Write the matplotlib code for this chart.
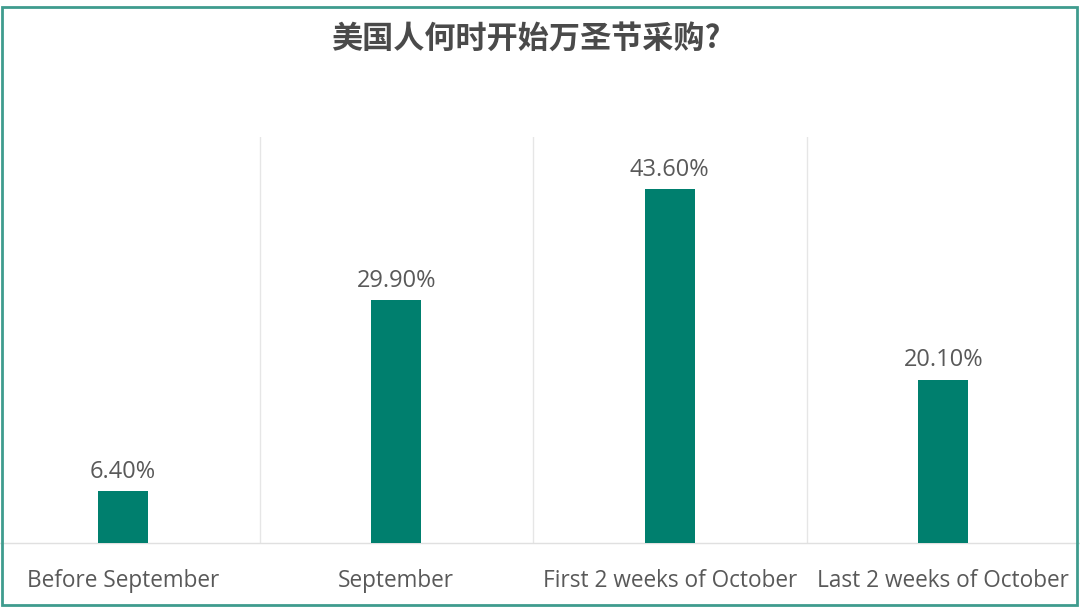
import matplotlib.pyplot as plt
from matplotlib.patches import Rectangle

categories = ["Before September", "September", "First 2 weeks of October", "Last 2 weeks of October"]
shares = [6.4, 29.9, 43.6, 20.1]
value_labels = ["6.40%", "29.90%", "43.60%", "20.10%"]
title = "美国人何时开始万圣节采购?"

W, H = 1080, 608
fig = plt.figure(figsize=(W / 100, H / 100), dpi=100)

# axes placed in pixel terms: x -14..1080, y 137..543 (from top)
ax = fig.add_axes([-14 / W, (H - 543) / H, 1094 / W, (543 - 137) / H])
x = range(len(categories))
ax.bar(x, shares, width=0.183, color="#007F6E", zorder=3)
for xi, v, lab in zip(x, shares, value_labels):
    ax.text(xi, v + 0.9, lab, ha="center", va="bottom", fontsize=17,
            color="#595959", family=["Open Sans", "DejaVu Sans"])

ax.set_xlim(-0.5, len(categories) - 0.5)
ax.set_ylim(0, 50)
ax.set_yticks([])
ax.set_xticks(list(x))
ax.set_xticklabels(categories, fontsize=16.3, color="#595959", family=["Open Sans", "DejaVu Sans"])
ax.tick_params(axis="x", length=0, pad=19)
for b in [0.5, 1.5, 2.5]:
    ax.axvline(b, color="#e6e6e6", lw=1, zorder=1)
for s in ["top", "left", "right"]:
    ax.spines[s].set_visible(False)
ax.spines["bottom"].set_color("#e0e0e0")
ax.spines["bottom"].set_linewidth(1)

fig.text(526 / W, 1 - 39 / H, title, ha="center", va="center", fontsize=22.4, fontweight="bold",
         color="#4a4a4a", family=["Noto Sans CJK SC", "DejaVu Sans"])

fig.patches.append(Rectangle((2 / W, (H - 605) / H), 1075 / W, 598 / H, transform=fig.transFigure,
                             fill=False, edgecolor="#3f9c8e", lw=2))

fig.savefig("out.png", dpi=100)
